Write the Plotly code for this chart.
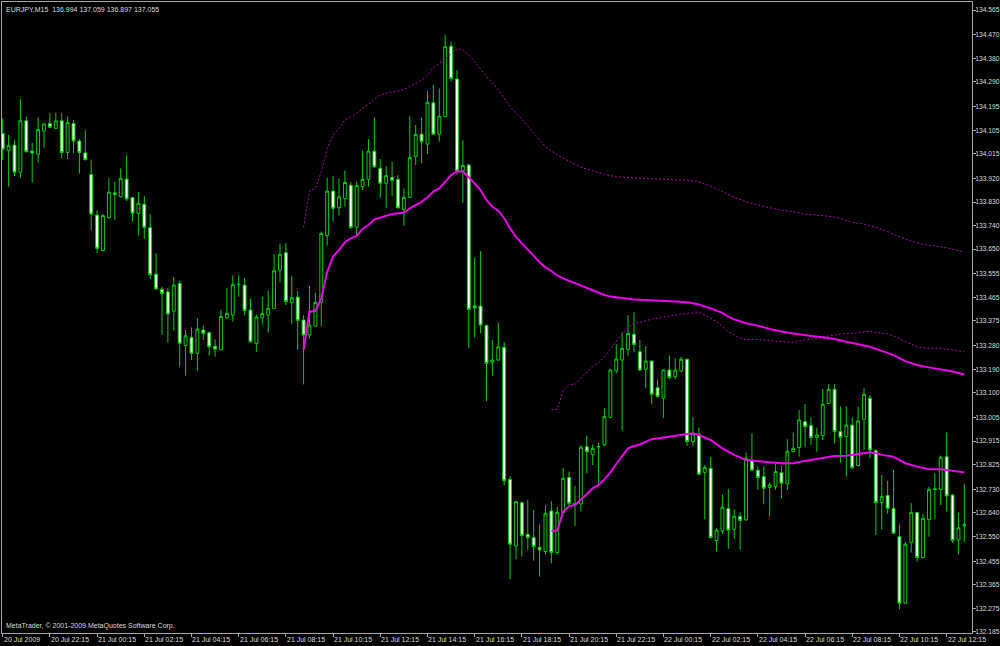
import plotly.graph_objects as go

# ---------------- data (EURJPY M15, bars 0..163 from 20 Jul 20:15) ----------------
opens = [134.093, 134.028, 134.048, 133.944, 134.141, 134.025, 134.013, 134.102, 134.131, 134.112,
         134.141, 134.020, 134.131, 134.064, 134.018, 133.936, 133.780, 133.644, 133.770, 133.865,
         133.850, 133.918, 133.847, 133.787, 133.822, 133.732, 133.554, 133.496, 133.486, 133.412,
         133.519, 133.281, 133.311, 133.251, 133.340, 133.330, 133.278, 133.265, 133.387, 133.398,
         133.515, 133.512, 133.417, 133.289, 133.387, 133.397, 133.423, 133.570, 133.636, 133.445,
         133.466, 133.378, 133.321, 133.355, 133.446, 133.702, 133.872, 133.808, 133.844, 133.894,
         133.734, 133.889, 133.917, 134.025, 133.959, 133.902, 133.924, 133.917, 133.802, 133.848,
         134.004, 134.090, 134.052, 134.210, 134.090, 134.157, 134.427, 134.301, 133.950, 133.972,
         133.433, 133.432, 133.357, 133.216, 133.225, 133.274, 132.768, 132.513, 132.679, 132.558,
         132.545, 132.508, 132.492, 132.647, 132.488, 132.641, 132.776, 132.670, 132.674, 132.893,
         132.864, 132.892, 132.900, 133.006, 133.184, 133.225, 133.266, 133.324, 133.257, 133.190,
         133.221, 133.119, 133.079, 133.187, 133.161, 133.183, 133.228, 132.913, 132.942, 132.795,
         132.811, 132.534, 132.571, 132.657, 132.577, 132.627, 132.613, 132.842, 132.803, 132.779,
         132.737, 132.740, 132.794, 132.751, 132.874, 132.890, 132.989, 132.974, 132.929, 132.936,
         133.059, 133.113, 132.951, 132.932, 132.976, 132.821, 132.998, 133.079, 132.878, 132.680,
         132.706, 132.657, 132.549, 132.294, 132.527, 132.641, 132.469, 132.615, 132.729, 132.730,
         132.855, 132.708, 132.536, 132.590]
highs = [134.150, 134.087, 134.067, 134.224, 134.157, 134.057, 134.154, 134.131, 134.170, 134.172,
         134.170, 134.157, 134.144, 134.071, 134.106, 133.993, 133.799, 133.784, 133.922, 133.908,
         133.959, 134.010, 133.849, 133.868, 133.853, 133.784, 133.634, 133.506, 133.501, 133.543,
         133.529, 133.340, 133.350, 133.385, 133.357, 133.334, 133.304, 133.417, 133.501, 133.549,
         133.549, 133.540, 133.459, 133.400, 133.468, 133.491, 133.630, 133.671, 133.673, 133.547,
         133.489, 133.397, 133.509, 133.483, 133.717, 133.923, 133.930, 133.921, 133.950, 133.908,
         133.908, 134.027, 134.071, 134.154, 133.995, 133.968, 133.984, 133.933, 133.882, 134.159,
         134.125, 134.153, 134.256, 134.278, 134.265, 134.472, 134.444, 134.335, 134.067, 133.976,
         133.617, 133.642, 133.362, 133.302, 133.369, 133.294, 132.781, 132.685, 132.683, 132.689,
         132.651, 132.597, 132.668, 132.685, 132.664, 132.811, 132.798, 132.744, 132.900, 132.936,
         132.902, 132.910, 133.040, 133.191, 133.286, 133.331, 133.397, 133.408, 133.302, 133.279,
         133.223, 133.151, 133.189, 133.243, 133.232, 133.238, 133.230, 133.006, 132.967, 132.823,
         132.853, 132.581, 132.710, 132.731, 132.655, 132.642, 132.871, 132.945, 132.817, 132.819,
         132.756, 132.830, 132.819, 132.922, 132.948, 133.034, 133.057, 133.004, 132.966, 133.114,
         133.132, 133.132, 133.047, 133.047, 133.006, 133.047, 133.117, 133.091, 132.885, 132.785,
         132.763, 132.804, 132.596, 132.530, 132.677, 132.644, 132.636, 132.740, 132.791, 132.859,
         132.948, 132.712, 132.641, 132.751]
lows = [133.991, 133.889, 133.930, 133.923, 134.019, 133.904, 133.981, 134.038, 134.116, 134.110,
        133.997, 133.995, 134.016, 133.939, 133.992, 133.723, 133.636, 133.641, 133.766, 133.761,
        133.848, 133.834, 133.757, 133.702, 133.690, 133.534, 133.497, 133.321, 133.292, 133.338,
        133.200, 133.165, 133.225, 133.184, 133.302, 133.242, 133.238, 133.262, 133.383, 133.372,
        133.468, 133.397, 133.293, 133.257, 133.362, 133.331, 133.421, 133.523, 133.436, 133.364,
        133.264, 133.132, 133.308, 133.353, 133.355, 133.663, 133.755, 133.778, 133.812, 133.729,
        133.700, 133.876, 133.889, 133.961, 133.847, 133.808, 133.854, 133.806, 133.739, 133.846,
        133.972, 133.978, 134.013, 134.088, 134.061, 134.155, 134.291, 133.936, 133.828, 133.271,
        133.311, 133.327, 133.068, 133.165, 133.223, 132.744, 132.386, 132.462, 132.472, 132.498,
        132.457, 132.396, 132.479, 132.447, 132.479, 132.638, 132.670, 132.590, 132.645, 132.791,
        132.823, 132.753, 132.896, 133.002, 133.174, 132.955, 133.241, 133.255, 133.183, 133.117,
        133.056, 133.082, 133.004, 133.151, 133.151, 133.178, 132.897, 132.893, 132.786, 132.615,
        132.543, 132.492, 132.558, 132.502, 132.540, 132.500, 132.610, 132.802, 132.728, 132.673,
        132.626, 132.728, 132.696, 132.728, 132.872, 132.855, 132.891, 132.900, 132.874, 132.919,
        133.057, 132.906, 132.832, 132.779, 132.807, 132.819, 132.881, 132.849, 132.555, 132.577,
        132.636, 132.560, 132.271, 132.291, 132.488, 132.453, 132.466, 132.549, 132.615, 132.670,
        132.645, 132.526, 132.481, 132.530]
closes = [134.032, 134.046, 133.944, 134.141, 134.023, 134.018, 134.108, 134.129, 134.116, 134.141,
          134.020, 134.135, 134.064, 134.020, 133.992, 133.784, 133.653, 133.778, 133.868, 133.859,
          133.921, 133.842, 133.787, 133.825, 133.733, 133.552, 133.497, 133.480, 133.401, 133.512,
          133.289, 133.318, 133.251, 133.343, 133.327, 133.276, 133.267, 133.392, 133.404, 133.515,
          133.514, 133.414, 133.295, 133.390, 133.403, 133.423, 133.567, 133.630, 133.449, 133.464,
          133.377, 133.321, 133.359, 133.446, 133.710, 133.872, 133.806, 133.850, 133.905, 133.732,
          133.894, 133.917, 134.025, 133.965, 133.902, 133.931, 133.913, 133.808, 133.848, 134.001,
          134.089, 134.061, 134.212, 134.090, 134.159, 134.425, 134.303, 133.949, 133.970, 133.419,
          133.425, 133.359, 133.212, 133.225, 133.276, 132.763, 132.520, 132.683, 132.553, 132.545,
          132.511, 132.498, 132.638, 132.488, 132.642, 132.772, 132.677, 132.677, 132.891, 132.874,
          132.887, 132.894, 133.008, 133.187, 133.229, 133.270, 133.327, 133.285, 133.187, 133.221,
          133.094, 133.085, 133.187, 133.158, 133.187, 133.228, 132.913, 132.942, 132.788, 132.814,
          132.545, 132.574, 132.661, 132.574, 132.627, 132.611, 132.849, 132.804, 132.775, 132.734,
          132.747, 132.798, 132.753, 132.876, 132.887, 132.996, 132.970, 132.929, 132.938, 133.056,
          133.113, 132.951, 132.929, 132.976, 132.813, 132.992, 133.094, 132.881, 132.679, 132.702,
          132.657, 132.562, 132.294, 132.520, 132.642, 132.469, 132.619, 132.730, 132.731, 132.853,
          132.705, 132.534, 132.583, 132.594]
bars = list(range(len(opens)))

# indicator lines (bar index, price)
ma1_bars = [51, 52, 53, 54, 55, 56, 57, 58, 59, 60, 61, 62, 63, 64, 65, 66, 67, 68, 69, 70,
            71, 72, 73, 74, 75, 76, 77, 78, 79, 80, 81, 82, 83, 84, 85, 86, 87, 88, 89, 90,
            91, 92, 93, 94, 95, 96, 97, 98, 99, 100, 101, 102, 103, 104, 105, 106, 107, 108, 110, 112,
            114, 116, 118, 120, 122, 123, 124, 126, 128, 130, 132, 134, 136, 139, 141, 143, 145, 147, 149, 151,
            153, 155, 157, 159, 161, 163]
ma1_vals = [133.264, 133.410, 133.413, 133.461, 133.563, 133.621, 133.646, 133.676, 133.691, 133.700,
            133.727, 133.742, 133.764, 133.771, 133.776, 133.784, 133.787, 133.789, 133.806, 133.819,
            133.831, 133.848, 133.870, 133.882, 133.908, 133.933, 133.947, 133.947, 133.925, 133.900,
            133.876, 133.838, 133.812, 133.797, 133.768, 133.729, 133.697, 133.672, 133.649, 133.625,
            133.599, 133.580, 133.566, 133.549, 133.538, 133.529, 133.521, 133.510, 133.500, 133.491,
            133.483, 133.474, 133.468, 133.466, 133.464, 133.460, 133.457, 133.456, 133.455, 133.452,
            133.449, 133.446, 133.438, 133.423, 133.406, 133.391, 133.381, 133.366, 133.357, 133.344,
            133.334, 133.327, 133.321, 133.311, 133.306, 133.295, 133.286, 133.276, 133.260, 133.244,
            133.221, 133.206, 133.197, 133.190, 133.181, 133.170]

band1_bars = [51, 52, 53, 54, 55, 56, 57, 58, 59, 60, 61, 62, 63, 64, 65, 66, 67, 68, 69, 70,
              71, 72, 73, 74, 75, 76, 77, 78, 79, 80, 82, 84, 86, 88, 90, 92, 94, 96, 98, 100,
              102, 104, 106, 108, 110, 112, 114, 116, 118, 120, 122, 124, 126, 128, 130, 132, 134, 136, 138, 140,
              142, 144, 146, 148, 150, 152, 154, 156, 158, 160, 162, 163]
band1_vals = [133.733, 133.873, 133.882, 133.946, 134.035, 134.087, 134.112, 134.144, 134.157, 134.169,
              134.189, 134.204, 134.224, 134.240, 134.246, 134.252, 134.255, 134.261, 134.272, 134.284,
              134.297, 134.316, 134.344, 134.361, 134.380, 134.399, 134.416, 134.412, 134.393, 134.369,
              134.310, 134.261, 134.195, 134.147, 134.095, 134.042, 134.010, 133.988, 133.963, 133.950,
              133.936, 133.927, 133.923, 133.921, 133.919, 133.918, 133.917, 133.914, 133.908, 133.891,
              133.870, 133.848, 133.831, 133.819, 133.808, 133.799, 133.793, 133.784, 133.780, 133.776,
              133.768, 133.752, 133.746, 133.733, 133.717, 133.697, 133.681, 133.668, 133.662, 133.655,
              133.644, 133.639]

ma2_bars = [93, 94, 95, 96, 97, 98, 99, 100, 101, 102, 103, 104, 105, 106, 107, 108, 110, 112, 114, 116,
            117, 118, 120, 122, 124, 126, 128, 130, 132, 134, 136, 139, 141, 143, 145, 146, 147, 148, 149, 151,
            152, 153, 155, 157, 159, 161, 163]
ma2_vals = [132.571, 132.572, 132.645, 132.666, 132.670, 132.689, 132.711, 132.734, 132.747, 132.768,
            132.795, 132.827, 132.855, 132.887, 132.896, 132.902, 132.922, 132.929, 132.936, 132.942,
            132.945, 132.938, 132.919, 132.887, 132.862, 132.842, 132.839, 132.834, 132.830, 132.830,
            132.839, 132.849, 132.858, 132.859, 132.865, 132.868, 132.872, 132.868, 132.862, 132.855,
            132.842, 132.830, 132.817, 132.807, 132.807, 132.800, 132.795]

band2_bars = [93, 94, 95, 96, 97, 98, 99, 100, 101, 102, 103, 104, 105, 106, 107, 108, 110, 112, 114, 116,
              118, 119, 120, 121, 122, 123, 124, 125, 126, 128, 130, 132, 134, 136, 138, 140, 142, 144, 146, 147,
              148, 150, 151, 152, 153, 154, 155, 157, 159, 161, 163]
band2_vals = [133.034, 133.036, 133.110, 133.132, 133.132, 133.155, 133.181, 133.200, 133.215, 133.238,
              133.266, 133.295, 133.327, 133.349, 133.366, 133.369, 133.382, 133.389, 133.398, 133.404,
              133.406, 133.398, 133.385, 133.372, 133.353, 133.334, 133.321, 133.308, 133.304, 133.304,
              133.299, 133.295, 133.293, 133.302, 133.308, 133.317, 133.325, 133.327, 133.334, 133.336,
              133.331, 133.325, 133.317, 133.308, 133.295, 133.285, 133.276, 133.270, 133.270, 133.264,
              133.257]

price_labels = ["134.565", "134.470", "134.380", "134.290", "134.195", "134.105", "134.015", "133.920",
                "133.830", "133.740", "133.650", "133.555", "133.465", "133.375", "133.280", "133.190",
                "133.100", "133.005", "132.915", "132.825", "132.730", "132.640", "132.550", "132.455",
                "132.365", "132.275", "132.185"]
time_label_bars = [0, 8, 16, 24, 32, 40, 48, 56, 64, 72, 80, 88, 96, 104, 112, 120, 128, 136, 144, 152, 160]
time_labels = ["20 Jul 2009", "20 Jul 22:15", "21 Jul 00:15", "21 Jul 02:15", "21 Jul 04:15",
               "21 Jul 06:15", "21 Jul 08:15", "21 Jul 10:15", "21 Jul 12:15", "21 Jul 14:15",
               "21 Jul 16:15", "21 Jul 18:15", "21 Jul 20:15", "21 Jul 22:15", "22 Jul 00:15",
               "22 Jul 02:15", "22 Jul 04:15", "22 Jul 06:15", "22 Jul 08:15", "22 Jul 10:15",
               "22 Jul 12:15"]
header = "EURJPY,M15\u00a0 136.994 137.059 136.897 137.055"
copyright_text = "MetaTrader, \u00a9 2001-2009 MetaQuotes Software Corp."

# ---------------- styling ----------------
GREEN = "#00d000"
MAGENTA = "#f000f0"
MAG_DOT = "#b400b4"
FRAME = "#a8a8a8"
TEXT = "#dcdcdc"
FONT = "Liberation Sans"
FS = 7

fig = go.Figure()
fig.add_trace(go.Candlestick(
    x=bars, open=opens, high=highs, low=lows, close=closes,
    increasing=dict(line=dict(color=GREEN, width=1), fillcolor="black"),
    decreasing=dict(line=dict(color=GREEN, width=1), fillcolor="white"),
    whiskerwidth=0, showlegend=False, hoverinfo="skip"))

fig.add_trace(go.Scatter(x=band1_bars, y=band1_vals, mode="lines",
                         line=dict(color=MAG_DOT, width=1, dash="2px,2px"), hoverinfo="skip"))
fig.add_trace(go.Scatter(x=band2_bars, y=band2_vals, mode="lines",
                         line=dict(color=MAG_DOT, width=1, dash="2px,2px"), hoverinfo="skip"))
fig.add_trace(go.Scatter(x=ma1_bars, y=ma1_vals, mode="lines",
                         line=dict(color=MAGENTA, width=2), hoverinfo="skip"))
fig.add_trace(go.Scatter(x=ma2_bars, y=ma2_vals, mode="lines",
                         line=dict(color=MAGENTA, width=2), hoverinfo="skip"))

annotations = []
for b, t in zip(time_label_bars, time_labels):
    annotations.append(dict(x=b, y=0, xref="x", yref="paper", text=t, showarrow=False,
                            xanchor="left", yanchor="top", xshift=-1, yshift=-1,
                            font=dict(family=FONT, size=FS, color=TEXT)))
annotations.append(dict(x=0, y=1, xref="paper", yref="paper", text=header, showarrow=False,
                        xanchor="left", yanchor="top", xshift=2, yshift=-2,
                        font=dict(family=FONT, size=FS, color=TEXT)))
annotations.append(dict(x=0, y=0, xref="paper", yref="paper", text=copyright_text, showarrow=False,
                        xanchor="left", yanchor="bottom", xshift=2, yshift=1,
                        font=dict(family=FONT, size=FS, color=TEXT)))

fig.update_layout(
    width=1000, height=646,
    margin=dict(l=2, r=28, t=2, b=13),
    paper_bgcolor="black", plot_bgcolor="black",
    showlegend=False,
    annotations=annotations,
    xaxis=dict(range=[-0.12, 164.3], showgrid=False, zeroline=False,
               showline=True, mirror=True, linecolor=FRAME, linewidth=1,
               ticks="outside", ticklen=3, tickcolor=FRAME, tickwidth=1,
               tickvals=time_label_bars, showticklabels=False,
               rangeslider=dict(visible=False), fixedrange=True),
    yaxis=dict(side="right", range=[132.180, 134.596], showgrid=False, zeroline=False,
               showline=True, mirror=True, linecolor=FRAME, linewidth=1,
               ticks="outside", ticklen=3, tickcolor=FRAME, tickwidth=1,
               tickvals=[float(v) for v in price_labels], ticktext=price_labels,
               ticklabelstandoff=-2,
               tickfont=dict(family=FONT, size=6.7, color=TEXT), automargin=False,
               fixedrange=True),
)

fig.write_html(
    "out.html",
    config={"displayModeBar": False},
    post_script="document.body.style.margin='0';document.body.style.overflow='hidden';"
                "document.body.style.background='black';",
)
